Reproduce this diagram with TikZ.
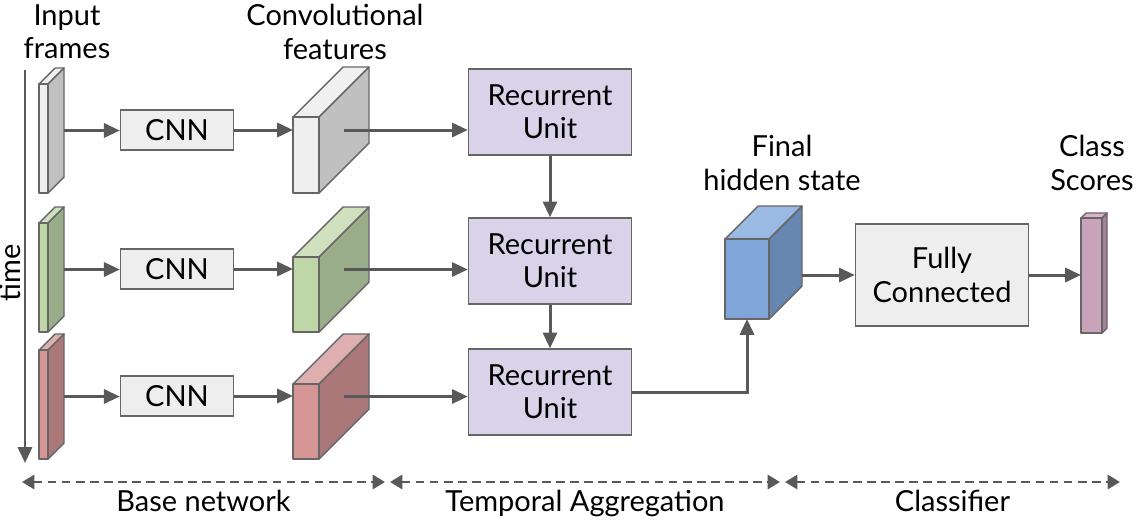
\documentclass[tikz,border=0pt]{standalone}
\usepackage{fontspec}
\setmainfont{Lato}
\usetikzlibrary{arrows.meta,positioning}
\definecolor{arrowgray}{HTML}{595959}
\definecolor{edgegray}{HTML}{666666}
\definecolor{boxgray}{HTML}{EEEEEE}
\definecolor{rupurple}{HTML}{D9D2E9}
\definecolor{grayfront}{HTML}{EFEFEF}
\definecolor{grayside}{HTML}{C0C0C0}
\definecolor{graytop}{HTML}{F0F0F0}
\definecolor{greenfront}{HTML}{BFD7A7}
\definecolor{greenside}{HTML}{9AAD8A}
\definecolor{greentop}{HTML}{CFE0BE}
\definecolor{redfront}{HTML}{D69595}
\definecolor{redside}{HTML}{AA7878}
\definecolor{redtop}{HTML}{DFAEAE}
\definecolor{bluefront}{HTML}{80A6D9}
\definecolor{blueside}{HTML}{6685AF}
\definecolor{bluetop}{HTML}{9BBAE3}
\definecolor{scorefront}{HTML}{C9A3B9}
\definecolor{scoreside}{HTML}{A6819A}
\definecolor{scoretop}{HTML}{D6B6C8}
\tikzset{
  every node/.style={font=\fontsize{16.5pt}{19pt}\selectfont},
  slabline/.style={draw=edgegray,line width=0.8pt,line join=round},
  arr/.style={draw=arrowgray,line width=1.7pt,-{Triangle[length=9pt,width=8pt]}},
  span/.style={draw=arrowgray,line width=1.6pt,dash pattern=on 5pt off 3pt,
    {Triangle[length=7pt,width=8pt]}-{Triangle[length=7pt,width=8pt]}},
  cnnbox/.style={draw=edgegray,line width=0.8pt,fill=boxgray,inner sep=0pt,
    minimum width=2.26cm,minimum height=0.8cm},
  rubox/.style={draw=edgegray,line width=0.8pt,fill=rupurple,inner sep=0pt,align=center,
    minimum width=3.26cm,minimum height=1.72cm},
  fcbox/.style={draw=edgegray,line width=0.8pt,fill=boxgray,inner sep=0pt,align=center,
    minimum width=3.46cm,minimum height=2.04cm},
  lbl/.style={align=center,inner sep=0pt}
}
\newcommand{\slab}[9]{%
  \filldraw[slabline,fill=#9] (#2,#3) -- ++(#6,-#6) -- ++(#4,0) -- ++(-#6,#6) -- cycle;
  \filldraw[slabline,fill=#8] (#2+#4,#3) -- ++(#6,-#6) -- ++(0,#5) -- ++(-#6,#6) -- cycle;
  \filldraw[slabline,fill=#7] (#2,#3) rectangle ++(#4,#5);
  \coordinate (#1-w) at (#2,#3+#5/2);
  \coordinate (#1-e) at (#2+#4+#6/2,#3+#5/2-#6/2);
  \coordinate (#1-r) at (#2+#4+#6,#3+#5/2-#6/2);
  \coordinate (#1-s) at (#2+#4/2,#3+#5);
}
\begin{document}
\begin{tikzpicture}[x=0.02cm,y=-0.02cm]
  \useasboundingbox (0,0) rectangle (1139,522);

  \node[lbl] (inlbl) at (67,32) {Input\\frames};
  \node[lbl] (convlbl) at (335,32) {Convolutional\\features};
  \node[lbl] (hidlbl) at (782,163) {Final\\hidden state};
  \node[lbl] (scorelbl) at (1092,163) {Class\\Scores};

  \coordinate (t0) at (25,70);
  \coordinate (t1) at (25,463);
  \draw[arr] (t0) -- (t1);
  \node[lbl,rotate=90] (timelbl) at (10,273) {time};

  \slab{frameA}{39}{84}{9}{109}{16}{grayfront}{grayside}{graytop}
  \slab{frameB}{39}{223}{9}{109}{16}{greenfront}{greenside}{greentop}
  \slab{frameC}{39}{350}{9}{109}{16}{redfront}{redside}{redtop}

  \node[cnnbox] (cnnA) at (177,130) {CNN};
  \node[cnnbox] (cnnB) at (177,269) {CNN};
  \node[cnnbox] (cnnC) at (177,396) {CNN};

  \slab{convA}{293}{117}{26}{76}{50}{grayfront}{grayside}{graytop}
  \slab{convB}{293}{257}{26}{75}{50}{greenfront}{greenside}{greentop}
  \slab{convC}{293}{384}{26}{75}{50}{redfront}{redside}{redtop}

  \node[rubox] (ruA) at (550,112) {Recurrent\\Unit};
  \node[rubox] (ruB) at (550,261) {Recurrent\\Unit};
  \node[rubox] (ruC) at (550,392) {Recurrent\\Unit};

  \slab{hid}{725}{239}{44}{80}{33}{bluefront}{blueside}{bluetop}
  \node[fcbox] (fc) at (942,275) {Fully\\Connected};
  \slab{score}{1081}{218}{21}{115}{5}{scorefront}{scoreside}{scoretop}

  \draw[arr] (frameA-r) -- (frameA-r -| cnnA.west);
  \draw[arr] (frameB-r) -- (frameB-r -| cnnB.west);
  \draw[arr] (frameC-r) -- (frameC-r -| cnnC.west);
  \draw[arr] (cnnA.east) -- (cnnA.east -| convA-w);
  \draw[arr] (cnnB.east) -- (cnnB.east -| convB-w);
  \draw[arr] (cnnC.east) -- (cnnC.east -| convC-w);
  \draw[arr] (convA-e) -- (convA-e -| ruA.west);
  \draw[arr] (convB-e) -- (convB-e -| ruB.west);
  \draw[arr] (convC-e) -- (convC-e -| ruC.west);
  \draw[arr] (ruA) -- (ruB);
  \draw[arr] (ruB) -- (ruC);
  \draw[arr] (ruC.east) -| (hid-s);
  \draw[arr] (fc.west -| hid-r) -- (fc.west);
  \draw[arr] (fc.east) -- (fc.east -| score-w);

  \coordinate (b0) at (22,482);
  \coordinate (b1) at (385,482);
  \coordinate (b2) at (390,482);
  \coordinate (b3) at (780,482);
  \coordinate (b4) at (785,482);
  \coordinate (b5) at (1120,482);
  \draw[span] (b0) -- node[lbl,below=4pt] (baselbl) {Base network} (b1);
  \draw[span] (b2) -- node[lbl,below=4pt] (templbl) {Temporal Aggregation} (b3);
  \draw[span] (b4) -- node[lbl,below=4pt] (clslbl) {Classifier} (b5);
\end{tikzpicture}
\end{document}
